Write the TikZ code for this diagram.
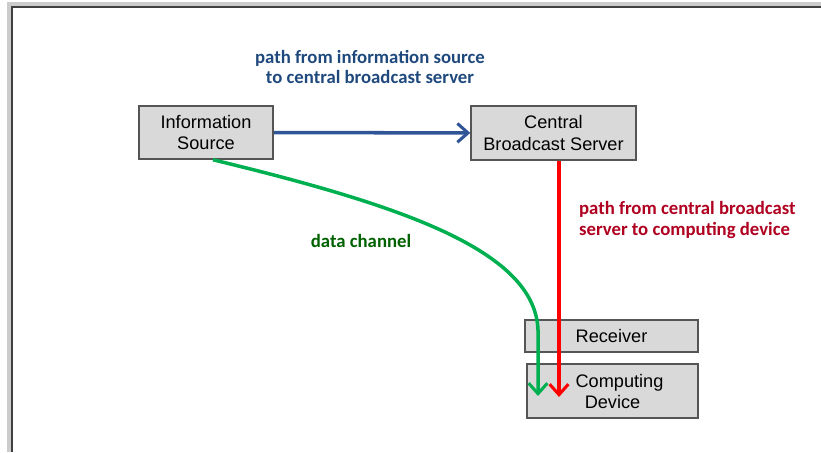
\documentclass[tikz,border=0pt]{standalone}
\usepackage{fontspec}
\setmainfont{Liberation Sans}
\newfontfamily\lblfont{Carlito}
\usetikzlibrary{arrows.meta}
\definecolor{boxgray}{RGB}{217,217,217}
\definecolor{boxline}{RGB}{85,85,85}
\definecolor{pathblue}{RGB}{47,85,151}
\definecolor{lblblue}{RGB}{31,73,125}
\definecolor{pathred}{RGB}{255,0,0}
\definecolor{lblred}{RGB}{176,0,32}
\definecolor{pathgreen}{RGB}{0,176,80}
\definecolor{lblgreen}{RGB}{0,97,0}
\tikzset{
  blk/.style={draw=boxline,line width=1.3pt,fill=boxgray,inner sep=0pt,
    align=center,font=\fontsize{15.5}{18}\selectfont},
  lbl/.style={font=\lblfont\bfseries\fontsize{16}{17.5}\selectfont,align=center},
  conn/.style={line width=3pt,-{Straight Barb[length=9pt,width=16pt,line width=2.6pt]}}
}
\begin{document}
\begin{tikzpicture}[x=0.03cm,y=-0.03cm]
\useasboundingbox (0,0) rectangle (821,452);
% frame
\draw[gray!40,line width=3pt] (9,452) -- (9,4) -- (821,4);
\draw[black!75,line width=1.4pt] (12,452) -- (12,7) -- (821,7);
% boxes
\node[blk,minimum width=134*0.03cm,minimum height=53*0.03cm] (src) at (206,132.5) {Information\\Source};
\node[blk,minimum width=165*0.03cm,minimum height=54*0.03cm] (cbs) at (553.5,133) {Central\\Broadcast Server};
\node[blk,minimum width=173*0.03cm,minimum height=32*0.03cm] (rcv) at (611.5,336) {Receiver};
\node[blk,minimum width=171*0.03cm,minimum height=54*0.03cm,text depth=0pt] (dev) at (612.5,391) {\hspace*{12pt}Computing\\Device};
\coordinate (redtip) at (559,397);
\coordinate (greenbend) at (538,330);
\coordinate (greentip) at (538,396);
% labels
\node[lbl,text=lblblue] (blbl) at (370,67) {path from information source\\to central broadcast server};
\node[lbl,text=lblred,align=left,anchor=west] (rlbl) at (575,220) {path from central broadcast\\server to computing device};
\node[lbl,text=lblgreen] (glbl) at (361,241) {data channel};
% connectors
\draw[conn,pathblue] (src) -- (cbs);
\draw[conn,pathred,line width=2.6pt] (cbs.south -| redtip) -- (redtip);
\draw[conn,pathgreen] (src.south -| 213,0) .. controls (400,205) and (535,250) .. (greenbend) -- (greentip);
\end{tikzpicture}
\end{document}
